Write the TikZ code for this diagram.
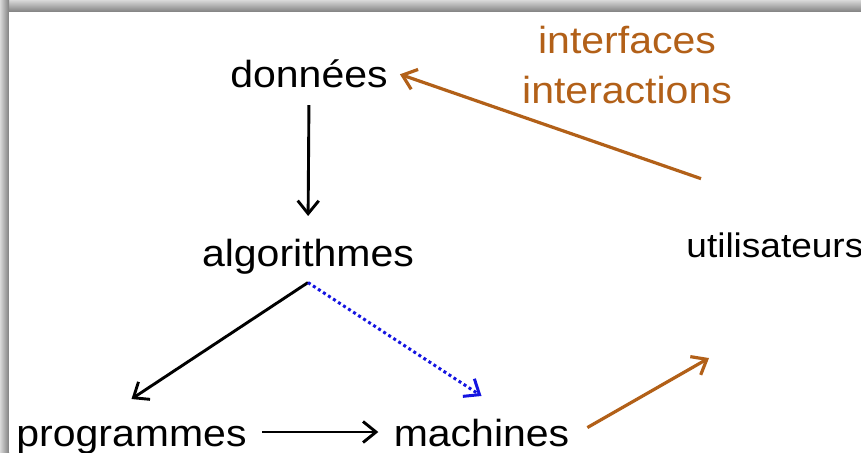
\documentclass[tikz,border=0pt]{standalone}
\usepackage{fontspec}
\setmainfont{Liberation Sans}
\usetikzlibrary{arrows.meta,positioning}
\definecolor{rust}{RGB}{178,96,24}
\definecolor{dotblue}{RGB}{20,20,225}

\begin{document}
\begin{tikzpicture}[x=0.5pt,y=0.5pt,->,>={Straight Barb[length=6.5pt,width=10.5pt]},line width=1.45pt,
		word node/.style={inner sep=4pt, yscale=0.92, font=\fontsize{20.5}{27.2}\selectfont},
		small node/.style={word node, font=\fontsize{18.5}{24}\selectfont},
		brown line/.style={rust, line width=1.6pt},
		dot line/.style={dotblue, line width=1.5pt, dash pattern=on 1.5pt off 1.5pt}]

 	\useasboundingbox (0,0) rectangle (861,-452);
 	\shade[top color=black!15, bottom color=black!50] (0,0) rectangle (861,-12);
 	\shade[left color=black!15, right color=black!50] (0,0) rectangle (9,-452);
 	\fill[white] (9,-12) rectangle (861,-452);

 	\node[word node, anchor=base] (d) at (309,-87) {données};
 	\node[word node, anchor=base] (a) at (308,-266) {algorithmes};
 	\node[word node, anchor=base] (p) at (131.5,-446) {programmes};
 	\node[word node, anchor=base] (m) at (481.5,-446) {machines};
 	\node[small node, anchor=base west] (u) at (677,-257) {utilisateurs};
 	\node[word node, rust, align=center, anchor=north] (i) at (627,-17) {interfaces\\interactions};
 	\coordinate[above=22.5pt of u.north west, xshift=12pt] (uout);
 	\coordinate[below=46pt of u.south west, xshift=16pt] (uin);

		\path	(d.south) 	edge[shorten <=4.5pt, shorten >=7pt] (a.north);
		\path	(a.south) 	edge[] ([yshift=9pt]p.north)
						edge[dot line] ([yshift=7pt]m.north);
		\path	([yshift=7pt]p.base east) 	edge[shorten <=3pt, shorten >=3pt] ([yshift=7pt]m.base west);
		\path	(m.east) 	edge[brown line, shorten <=5pt] (uin);
		\path	(uout) 	edge[brown line, shorten >=1.5pt] (d.east);
\end{tikzpicture}
\end{document}
